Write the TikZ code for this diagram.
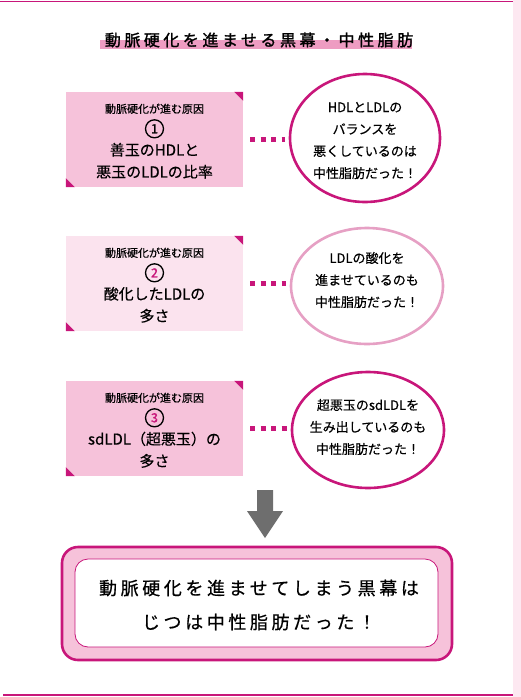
\documentclass[tikz,border=0pt]{standalone}
\usepackage{fontspec}
\setmainfont{Noto Sans CJK JP}[FakeBold=0.4]
\newfontfamily\jpwide{Noto Sans CJK JP}[LetterSpace=20, FakeBold=0.6]
\newfontfamily\jptitle{Noto Sans CJK JP}[LetterSpace=22, FakeBold=1.6]
\usetikzlibrary{positioning,calc,shapes.geometric}
\definecolor{deepmag}{RGB}{200,22,122}
\definecolor{boxpink}{RGB}{246,194,218}
\definecolor{palepink}{RGB}{251,227,238}
\definecolor{softpink}{RGB}{230,160,196}
\definecolor{bandpink}{RGB}{238,156,194}
\definecolor{stripink}{RGB}{253,232,241}
\definecolor{arrgray}{RGB}{110,110,110}

\begin{document}
\begin{tikzpicture}[x=1pt, y=-1pt,
  cause/.style={minimum width=177pt, minimum height=95pt, inner sep=0pt, fill=boxpink},
  fact/.style={ellipse, draw=deepmag, line width=2.6pt, fill=white,
               minimum width=152pt, minimum height=116pt, inner sep=0pt},
  tag/.style={font=\fontsize{11}{13}\selectfont},
  num/.style={circle, draw=black, line width=1.3pt, minimum size=18pt,
              inner sep=0pt, font=\jptitle\fontsize{12.5}{12.5}\selectfont},
  body/.style={align=center, font=\fontsize{15}{22}\selectfont},
  say/.style={align=center, font=\fontsize{13}{22}\selectfont},
  dotlink/.style={draw=deepmag, line width=5pt, dash pattern=on 5pt off 5.5pt,
                  shorten <=7pt, shorten >=4pt},
  corner/.style={fill=deepmag},
  sumout/.style={draw=deepmag, line width=2.6pt, fill=boxpink, rounded corners=16pt,
                 minimum width=390pt, minimum height=113pt},
  sumin/.style={draw=deepmag, line width=0.8pt, fill=white, rounded corners=13pt,
                minimum width=363pt, minimum height=88pt},
]
\useasboundingbox (0,0) rectangle (521,697);

%% ---- Page frame ----
\fill[stripink] (513,0) rectangle (521,697);
\draw[deepmag, line width=1.5pt] (0,1.5) -- (513,1.5);
\draw[deepmag, line width=1.5pt] (3,695) -- (513,695);

%% ---- Title ----
\fill[bandpink] (100,40) rectangle (412,49);
\node[font=\jptitle\fontsize{16}{16}\selectfont] (title) at (259,40)
  {動脈硬化を進ませる黒幕・中性脂肪};

%% ---- Causes (left) ----
\node[cause] (cause1) at (154.5,139.5) {};
\node[cause, fill=palepink] (cause2) at (154.5,283.5) {};
\node[cause] (cause3) at (154.5,428.5) {};
\foreach \c in {cause1,cause2,cause3}{
  \fill[corner] (\c.north east) -- +(-9,0) -- +(0,9) -- cycle;
  \fill[corner] (\c.south west) -- +(9,0) -- +(0,-9) -- cycle;
  \node[tag] at ($(\c.north)+(0,17)$) {動脈硬化が進む原因};
}
\node[num] (n1) at ($(cause1.north)+(0,37)$) {1};
\node[num, text=deepmag] (n2) at ($(cause2.north)+(0,37)$) {2};
\node[num, text=deepmag] (n3) at ($(cause3.north)+(0,37)$) {3};
\node[body] at ($(cause1.north)+(0,69)$) {善玉のHDLと\\悪玉のLDLの比率};
\node[body] at ($(cause2.north)+(0,69)$) {酸化したLDLの\\多さ};
\node[body] at ($(cause3.north)+(0,69)$) {sdLDL（超悪玉）の\\多さ};

%% ---- Facts (right) ----
\node[fact, minimum width=150pt, minimum height=128pt] (fact1) at (365,138) {};
\node[fact, draw=softpink] (fact2) at (367,286) {};
\node[fact] (fact3) at (368,430) {};
\node[say] at (365,140.5) {HDLとLDLの\\バランスを\\悪くしているのは\\中性脂肪だった！};
\node[say] at (367,280) {LDLの酸化を\\進ませているのも\\中性脂肪だった！};
\node[say] at (368,427) {超悪玉のsdLDLを\\生み出しているのも\\中性脂肪だった！};

% dotted links
\foreach \i in {1,2,3}{
  \draw[dotlink] (cause\i.east) -- (cause\i.east -| fact\i.west);
}

%% ---- Down arrow ----
\fill[arrgray] (257,490) -- (273,490) -- (273,511) -- (283,511)
  -- (265,538) -- (247,511) -- (257,511) -- cycle;

%% ---- Summary ----
\node[sumout] (sumbox) at (257,603.5) {};
\node[sumin] (suminner) at (256.5,603) {};
\node[align=center, font=\jpwide\fontsize{18}{34}\selectfont] (sumtext) at (259,605)
  {動脈硬化を進ませてしまう黒幕は\\じつは中性脂肪だった！};

\end{tikzpicture}
\end{document}
